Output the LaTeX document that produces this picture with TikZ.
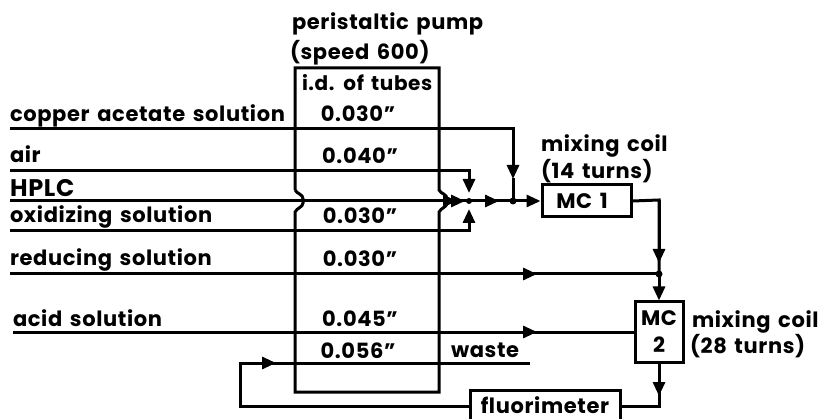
\documentclass[tikz,border=0pt]{standalone}
\usepackage{fontspec}
\setmainfont{Poppins}[LetterSpace=3,WordSpace=1.5]
\usetikzlibrary{arrows.meta}
\tikzset{
 txt/.style={font=\fontsize{21}{24}\selectfont\bfseries},
 lab/.style={anchor=base west,inner sep=0pt,outer sep=0pt,txt},
 val/.style={anchor=base,inner sep=0pt,outer sep=0pt,font=\fontsize{21}{24}\selectfont\bfseries},
 blk/.style={draw,line width=3pt,inner sep=0pt,anchor=center},
 ln/.style={line width=3pt,line join=miter},
 hd/.style={-{Triangle[length=14pt,width=12pt]}},
 dot/.style={circle,fill,inner sep=0pt,minimum size=7pt},
}
\begin{document}
\begin{tikzpicture}[x=1pt,y=-1pt,line cap=butt]
\useasboundingbox (0,0) rectangle (821,419);
% labels
\node[lab] (t1) at (292,30) {peristaltic pump};
\node[lab] (t2) at (290,60) {(speed 600)};
\node[lab,font=\fontsize{20}{24}\selectfont\bfseries] (t3) at (302,91) {i.d. of tubes};
\node[lab] (l1) at (10,122) {copper acetate solution};
\node[lab] (l2) at (10,163) {air};
\node[lab,font=\fontsize{24}{24}\selectfont\bfseries] (l3) at (10,197) {HPLC};
\node[lab] (l4) at (10,223) {oxidizing solution};
\node[lab] (l5) at (10,266) {reducing solution};
\node[lab] (l6) at (13,326) {acid solution};
\node[val] (v1) at (358,122) {0.030"};
\node[val] (v2) at (360,164) {0.040"};
\node[val] (v3) at (360,224) {0.030"};
\node[val] (v4) at (360,267) {0.030"};
\node[val] (v5) at (360,326) {0.045"};
\node[val] (v6) at (358,358) {0.056"};
\node[lab] (w) at (451,357) {waste};
\node[lab] (m1) at (541,152) {mixing coil};
\node[lab] (m2) at (541,179) {(14 turns)};
\node[lab] (m3) at (692,327) {mixing coil};
\node[lab] (m4) at (690,353) {(28 turns)};
% boxes
\node[blk,minimum width=89pt,minimum height=32pt,txt] (mc1) at (586.5,201) {MC 1\kern9pt};
\node[blk,minimum width=48pt,minimum height=60pt,align=center,font=\fontsize{21}{27}\selectfont\bfseries] (mc2) at (659,332) {MC\\2};
\node[blk,minimum width=150pt,minimum height=31pt,text height=16pt,text depth=2pt,txt] (fl) at (545,406) {fluorimeter};
% coordinates
\coordinate (a1) at (10,129); \coordinate (a2) at (513,129);
\coordinate (b1) at (10,171); \coordinate (b2) at (469,171);
\coordinate (c1) at (10,201); \coordinate (c0) at (469,201); \coordinate (cj) at (513,201);
\coordinate (d1) at (10,231); \coordinate (d2) at (469,231);
\coordinate (e1) at (10,274); \coordinate (ej) at (659,274);
\coordinate (f1) at (13,332);
\coordinate (g1) at (240,363); \coordinate (g2) at (530,363); \coordinate (g3) at (240,406);
\coordinate (h1) at (659,406); \coordinate (k1) at (659,200);
% pump box with bumps
\draw[ln] (295,190) -- (295,68) -- (439,68) -- (439,190) .. controls (441,194) and (447,194) .. (447,199) -- (447,203) .. controls (447,207) and (441,208) .. (439,212) -- (439,392) -- (295,392) -- (295,212) .. controls (297,208) and (303,207) .. (303,203) -- (303,199) .. controls (303,194) and (297,194) .. (295,190);
% connectors
\draw[ln,hd] (a1) -- (a2) -- (513,179);
\draw[ln] (513,178) -- (cj);
\draw[ln,hd] (b1) -- (b2) -- (469,193);
\draw[ln,hd] (d1) -- (d2) -- (469,209);
\draw[ln,hd] (c1) -- (mc1.west);
\draw[ln,hd] (c1) -- (457,201);
\draw[ln,hd] (c1) -- (465,201);
\draw[ln,hd] (c1) -- (499,201);
\draw[ln] (mc1.east) -- (k1) -- (ej);
\draw[ln,hd] (k1) -- (659,263);
\draw[ln] (e1) -- (ej);
\draw[ln,hd] (e1) -- (537,274);
\draw[ln,hd] (ej) -- (mc2.north);
\draw[ln] (f1) -- (mc2.west);
\draw[ln,hd] (f1) -- (537,332);
\draw[ln] (mc2.south) -- (h1) -- (fl.east);
\draw[ln,hd] (mc2.south) -- (659,396);
\draw[ln] (fl.west) -- (g3) -- (g1) -- (g2);
\draw[ln,hd] (g1) -- (276,363);
\node[dot] (j1) at (cj) {};
\node[dot] (j2) at (ej) {};
\node[dot,minimum size=6pt] (j3) at (c0) {};
\end{tikzpicture}
\end{document}
